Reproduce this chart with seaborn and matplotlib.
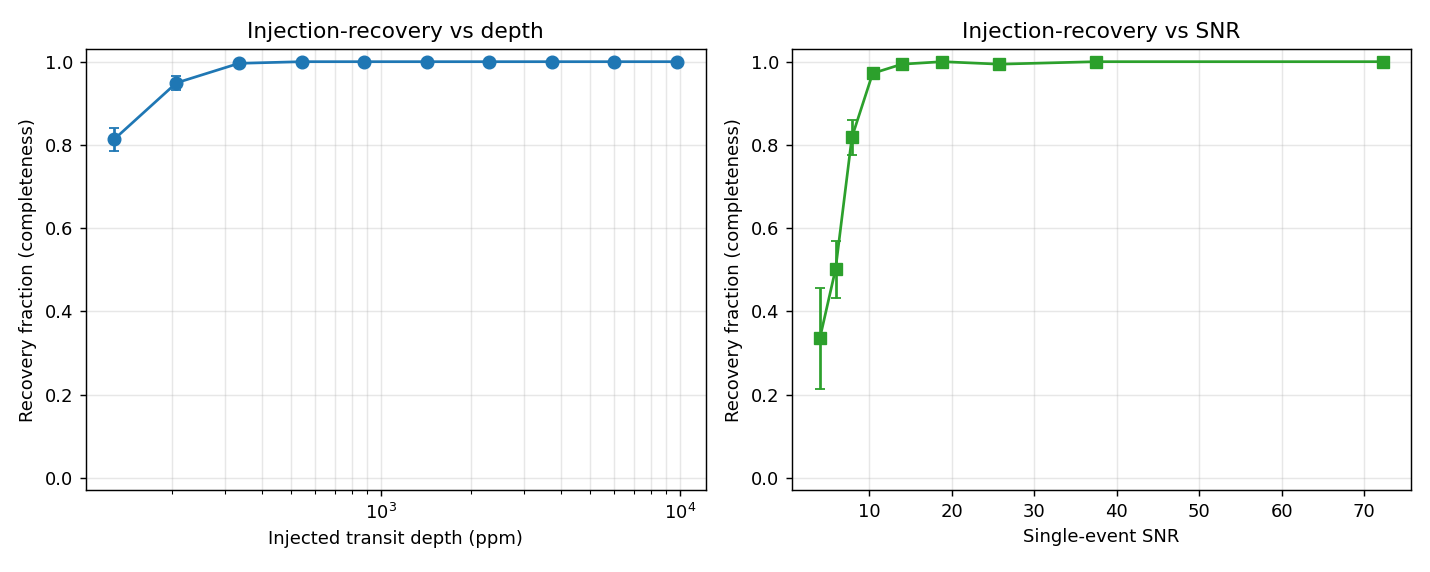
import numpy as np
import pandas as pd
import matplotlib
matplotlib.use('Agg')
import matplotlib.pyplot as plt
import seaborn as sns

# 注入深度 (ppm) 与回收率
depth_ppm = [128, 207, 335, 543, 878, 1422, 2302, 3727, 6034, 9795]
depth_frac = [0.813, 0.949, 0.996, 1.0, 1.0, 1.0, 1.0, 1.0, 1.0, 1.0]
depth_err = [0.027, 0.016, 0.004, 0.0, 0.0, 0.0, 0.0, 0.0, 0.0, 0.0]

# 单次事件信噪比与回收率
snr = [4.05, 5.95, 7.93, 10.45, 14.0, 18.9, 25.8, 37.5, 72.3]
snr_frac = [0.335, 0.501, 0.818, 0.972, 0.994, 1.0, 0.994, 1.0, 1.0]
snr_err = [0.122, 0.068, 0.043, 0.009, 0.004, 0.0, 0.004, 0.0, 0.0]

df_depth = pd.DataFrame({'depth': depth_ppm, 'frac': depth_frac, 'err': depth_err})
df_snr = pd.DataFrame({'snr': snr, 'frac': snr_frac, 'err': snr_err})

blue = '#1f77b4'
green = '#2ca02c'

fig, (ax1, ax2) = plt.subplots(1, 2, figsize=(11, 4.4), dpi=130)

ax1.set_xscale('log')
sns.lineplot(x='depth', y='frac', data=df_depth, ax=ax1, color=blue, marker='o',
             markersize=7, markeredgecolor=blue, linewidth=1.5)
ax1.errorbar(df_depth['depth'], df_depth['frac'], yerr=df_depth['err'],
             fmt='none', ecolor=blue, capsize=3, elinewidth=1.5)
# 对数轴左右各留 5% 边距
lo, hi = np.log10(min(depth_ppm)), np.log10(max(depth_ppm))
pad = 0.05 * (hi - lo)
ax1.set_xlim(10 ** (lo - pad), 10 ** (hi + pad))
ax1.set_ylim(-0.03, 1.03)
ax1.set_title('Injection-recovery vs depth')
ax1.set_xlabel('Injected transit depth (ppm)')
ax1.set_ylabel('Recovery fraction (completeness)')
ax1.grid(True, which='both', alpha=0.3)

sns.lineplot(x='snr', y='frac', data=df_snr, ax=ax2, color=green, marker='s',
             markersize=7, markeredgecolor=green, linewidth=1.5)
ax2.errorbar(df_snr['snr'], df_snr['frac'], yerr=df_snr['err'],
             fmt='none', ecolor=green, capsize=3, elinewidth=1.5)
ax2.set_ylim(-0.03, 1.03)
ax2.set_title('Injection-recovery vs SNR')
ax2.set_xlabel('Single-event SNR')
ax2.set_ylabel('Recovery fraction (completeness)')
ax2.grid(True, alpha=0.3)

plt.subplots_adjust(left=0.060, right=0.987, top=0.914, bottom=0.143, wspace=0.139)
plt.savefig('out.png', dpi=130)
